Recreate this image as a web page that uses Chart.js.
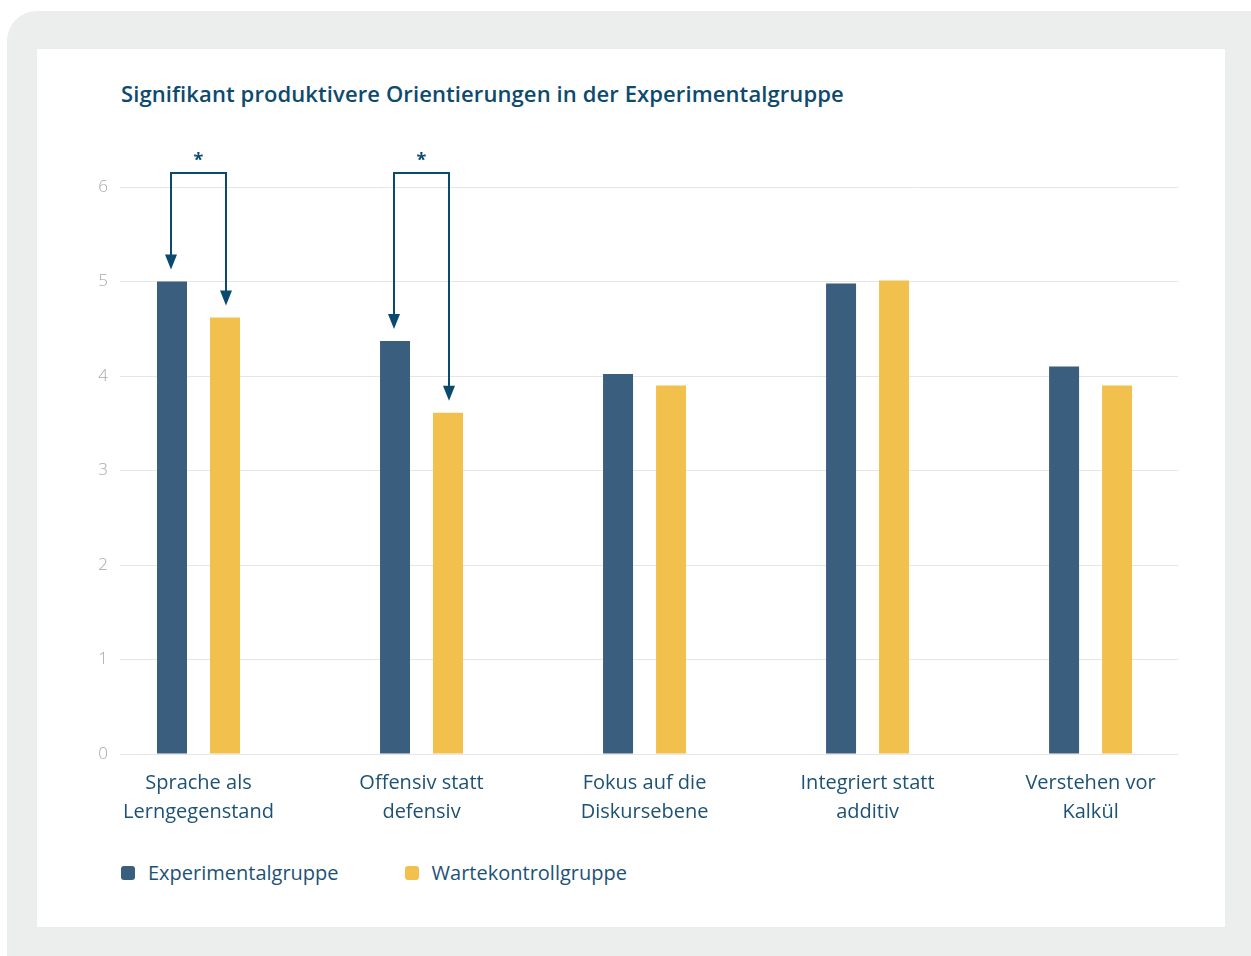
<!DOCTYPE html>
<html lang="de">
<head>
<meta charset="utf-8">
<title>Signifikant produktivere Orientierungen</title>
<script src="https://cdn.jsdelivr.net/npm/chart.js@4/dist/chart.umd.min.js"></script>
<style>
    html, body { margin: 0; padding: 0; background: #fff; overflow: hidden; }
    body { width: 1251px; height: 956px; position: relative; font-family: "Open Sans", sans-serif; }
    .frame { position: absolute; left: 7px; top: 11px; width: 1280px; height: 990px; background: #eceeed; border-radius: 30px; }
    .panel { position: absolute; left: 37px; top: 49px; width: 1188px; height: 878px; background: #fff; }
    .titel { position: absolute; left: 121px; top: 78px; margin: 0; font-size: 22px; letter-spacing: 0.1px; font-weight: 600; color: #0d4a6e; white-space: nowrap; }
    .chart-wrap { position: absolute; left: 37px; top: 130px; width: 1188px; height: 720px; }
    .legende { position: absolute; left: 121px; top: 859px; display: flex; font-size: 20px; color: #1d5275; }
    .legende span { display: flex; align-items: center; margin-right: 66px; }
    .legende i { display: inline-block; width: 14px; height: 14px; border-radius: 3px; margin-right: 13px; }
</style>
</head>
<body>
<div class="frame"></div>
<div class="panel"></div>
<h1 class="titel">Signifikant produktivere Orientierungen in der Experimentalgruppe</h1>
<div class="chart-wrap"><canvas id="chartOrientierungen"></canvas></div>
<div class="legende" id="legende"></div>

<script>
const kategorien = [
    ["Sprache als", "Lerngegenstand"],
    ["Offensiv statt", "defensiv"],
    ["Fokus auf die", "Diskursebene"],
    ["Integriert statt", "additiv"],
    ["Verstehen vor", "Kalkül"],
];
const serienNamen = ["Experimentalgruppe", "Wartekontrollgruppe"];
const serienFarben = ["#3a5e7e", "#f2c04c"];
const experimental = [5.0, 4.37, 4.02, 4.98, 4.1];
const wartekontroll = [4.62, 3.61, 3.9, 5.01, 3.9];
const yTicks = [0, 1, 2, 3, 4, 5, 6];
// Kategorien mit signifikantem Unterschied (*)
const signifikant = [0, 1];

// sichtbarer Bereich der Kategorie-Achse (Index-Einheiten)
const xVon = -0.352;
const xBis = 4.392;

const dunkelblau = "#0b4a6f";

const signifikanzPlugin = {
    id: "signifikanz",
    afterDatasetsDraw(chart) {
        const ctx = chart.ctx;
        const m0 = chart.getDatasetMeta(0);
        const m1 = chart.getDatasetMeta(1);
        const oben = chart.chartArea.top - 14;
        ctx.save();
        ctx.strokeStyle = dunkelblau;
        ctx.fillStyle = dunkelblau;
        ctx.lineWidth = 2;
        signifikant.forEach((i) => {
            const a = m0.data[i];
            const b = m1.data[i];
            const xa = Math.round(a.x) - 1;
            const xb = Math.round(b.x) + 1;
            const spitzeA = a.y - 12;
            const spitzeB = b.y - 12;
            ctx.beginPath();
            ctx.moveTo(xa, spitzeA - 14);
            ctx.lineTo(xa, oben);
            ctx.lineTo(xb, oben);
            ctx.lineTo(xb, spitzeB - 14);
            ctx.stroke();
            [[xa, spitzeA], [xb, spitzeB]].forEach(([x, y]) => {
                ctx.beginPath();
                ctx.moveTo(x - 6, y - 15);
                ctx.lineTo(x + 6, y - 15);
                ctx.lineTo(x, y);
                ctx.closePath();
                ctx.fill();
            });
            ctx.font = "bold 18px 'Open Sans'";
            ctx.textAlign = "center";
            ctx.textBaseline = "middle";
            ctx.fillText("*", (xa + xb) / 2, oben - 12);
        });
        ctx.restore();
    },
};

document.getElementById("legende").innerHTML = serienNamen
    .map((n, i) => `<span><i style="background:${serienFarben[i]}"></i>${n}</span>`)
    .join("");

new Chart(document.getElementById("chartOrientierungen").getContext("2d"), {
    type: "bar",
    data: {
        labels: kategorien,
        datasets: [
            { label: serienNamen[0], data: experimental, backgroundColor: serienFarben[0] },
            { label: serienNamen[1], data: wartekontroll, backgroundColor: serienFarben[1] },
        ],
    },
    options: {
        responsive: true,
        maintainAspectRatio: false,
        animation: false,
        categoryPercentage: 0.4753,
        barPercentage: 0.566,
        layout: { padding: { top: 57, right: 47, left: 0, bottom: 0 } },
        plugins: { legend: { display: false }, tooltip: { enabled: false } },
        scales: {
            x: {
                grid: { display: false },
                border: { display: false },
                ticks: {
                    color: "#1d5275",
                    font: { family: "Open Sans", size: 20, lineHeight: 1.45 },
                    padding: 7,
                    maxRotation: 0,
                    autoSkip: false,
                },
                afterBuildTicks(scale) {
                    scale._startValue = xVon;
                    scale._valueRange = xBis - xVon;
                },
                afterFit(scale) {
                    scale.height = 96;
                },
            },
            y: {
                min: 0,
                max: 6,
                afterBuildTicks(scale) {
                    scale.ticks = yTicks.map((v) => ({ value: v }));
                },
                grid: { color: "#e6e6e6", lineWidth: 1, drawTicks: false },
                border: { display: false },
                ticks: {
                    color: "#a8a8a8",
                    font: { family: "Open Sans", size: 17, weight: 300 },
                    padding: 12,
                },
                afterFit(scale) {
                    scale.width = 83;
                },
            },
        },
    },
    plugins: [signifikanzPlugin],
});
</script>
</body>
</html>
